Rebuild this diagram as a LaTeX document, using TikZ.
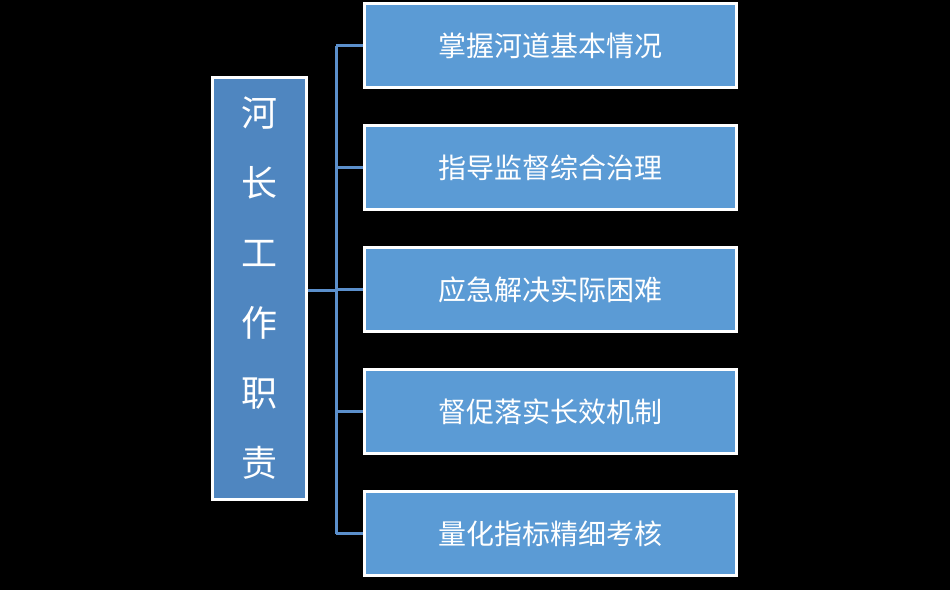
\documentclass[tikz,border=0pt]{standalone}
\usepackage{fontspec}
\setmainfont{Noto Sans CJK SC}
\begin{document}
\begin{tikzpicture}[x=1pt,y=-1pt,
  rbox/.style={draw=white,line width=3pt,fill=rightblue,minimum width=372pt,minimum height=84pt,text=white,font=\fontsize{28}{30}\selectfont,inner sep=0pt},
  lbox/.style={draw=white,line width=3pt,fill=leftblue,minimum width=94pt,minimum height=422pt,text=white,font=\fontsize{36}{70}\selectfont,inner sep=0pt,align=center},
  conn/.style={draw=linecol,line width=3pt}]
\definecolor{rightblue}{HTML}{5B9BD5}
\definecolor{leftblue}{HTML}{4F86C0}
\definecolor{linecol}{HTML}{5B8FCB}
\fill[black] (0,0) rectangle (950,590);
\useasboundingbox (0,0) rectangle (950,590);
\node[lbox] (L) at (259,288) {河\\长\\工\\作\\职\\责};
\node[rbox] (b1) at (550,45.5) {掌握河道基本情况};
\node[rbox] (b2) at (550,167.5) {指导监督综合治理};
\node[rbox] (b3) at (550,289.5) {应急解决实际困难};
\node[rbox] (b4) at (550,411.5) {督促落实长效机制};
\node[rbox] (b5) at (550,533.5) {量化指标精细考核};
\coordinate (j) at (336,290);
\draw[conn] (L.east |- j) -- (j);
\draw[conn] (336,45.5) -- (336,533.5);
\foreach \b in {b1,b2,b3,b4,b5} \draw[conn] (336,0 |- \b.west) -- (\b.west);
\end{tikzpicture}
\end{document}
